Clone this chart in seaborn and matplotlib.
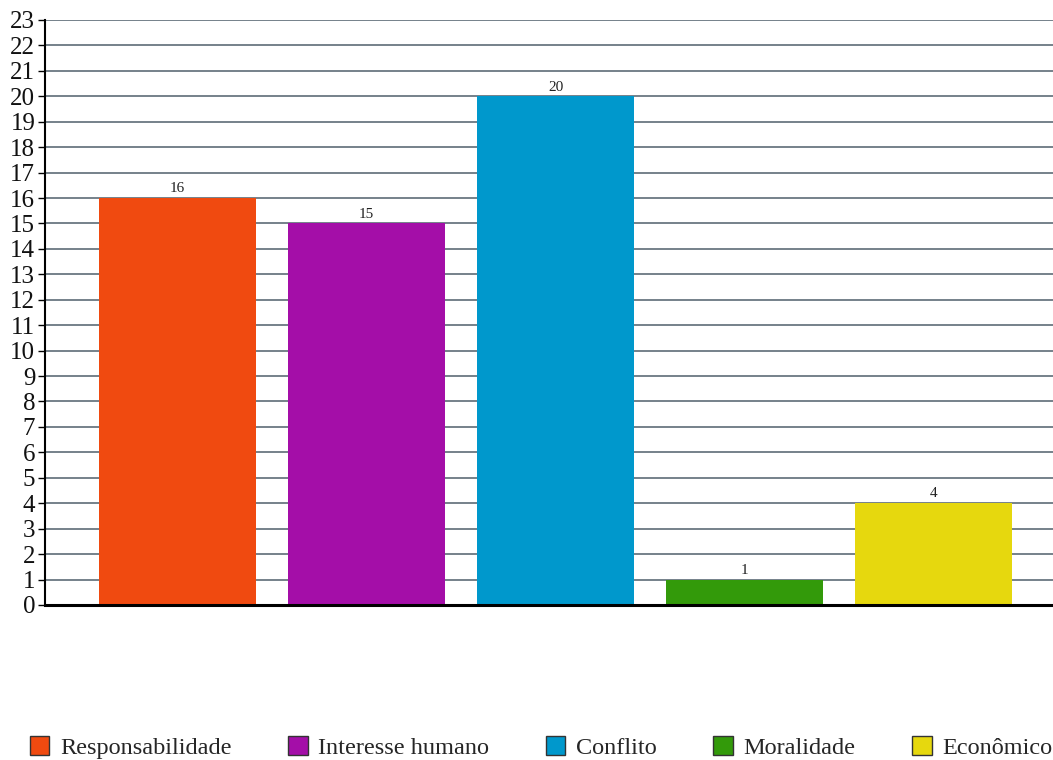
import matplotlib
matplotlib.use("Agg")
import matplotlib.pyplot as plt
import seaborn as sns
from matplotlib.patches import Patch

categories = ["Responsabilidade", "Interesse humano", "Conflito", "Moralidade", "Econômico"]
values = [16, 15, 20, 1, 4]
colors = ["#F04A10", "#A40EA8", "#0098CC", "#339A0A", "#E6D80E"]
yticks = list(range(0, 24))

sns.set_theme(style="white")
plt.rcParams['font.family'] = ['Liberation Serif', 'DejaVu Serif']

fig = plt.figure(figsize=(10.53, 7.6), dpi=100)
ax = fig.add_axes([0.0427, 0.204, 0.9573, 0.7697])

sns.barplot(x=categories, y=values, hue=categories, palette=colors, width=0.83,
            dodge=False, legend=False, ax=ax, saturation=1, zorder=3, linewidth=0)

ax.set_ylim(0, 23)
ax.set_xlim(-0.7, 4.63)
ax.set_yticks(yticks)
ax.set_yticklabels([str(t) for t in yticks], fontsize=18, color="#111111")
ax.set_xticks([])
ax.set_xlabel("")
ax.set_ylabel("")
for y in yticks[1:]:
    ax.axhline(y, color="#4F5F6B", lw=1.1, zorder=1)
ax.tick_params(axis="y", length=5, width=1, color="black", pad=2, left=True)
for s in ["top", "right"]:
    ax.spines[s].set_visible(False)
ax.spines["left"].set_color("black")
ax.spines["left"].set_linewidth(1.5)
ax.spines["bottom"].set_color("black")
ax.spines["bottom"].set_linewidth(2.2)
ax.spines["bottom"].set_zorder(5)

for i, v in enumerate(values):
    ax.annotate(str(v), (i, v), xytext=(0, 2), textcoords="offset points",
                ha="center", va="bottom", fontsize=11, color="#222222", zorder=6,
                bbox=dict(boxstyle="square,pad=0.1", fc="white", ec="none"))

handles = [Patch(facecolor=c, edgecolor="#333333", linewidth=1) for c in colors]
fig.legend(handles, categories, loc="center", bbox_to_anchor=(0.514, 0.016), ncol=5,
           frameon=False, fontsize=17.5, handlelength=0.8, handleheight=0.8,
           handletextpad=0.45, columnspacing=2.32)

fig.savefig("out.png", dpi=100, facecolor="white")
